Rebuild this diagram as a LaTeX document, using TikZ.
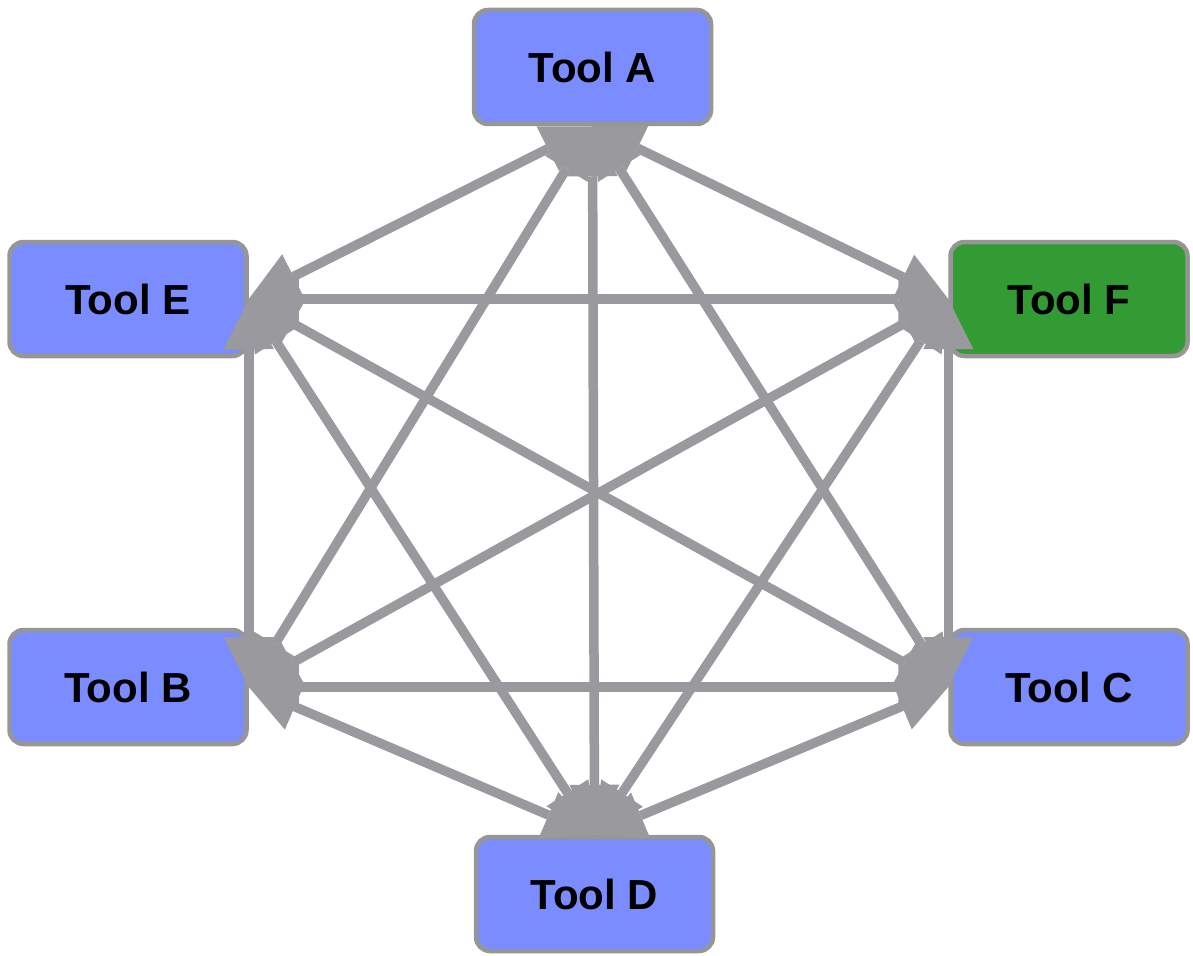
\documentclass[tikz,border=0pt]{standalone}
\usepackage{fontspec}
\setmainfont{Liberation Sans}
\usetikzlibrary{arrows.meta}
\definecolor{toolblue}{RGB}{123,140,255}
\definecolor{toolgreen}{RGB}{51,155,51}
\definecolor{bordergray}{RGB}{150,150,150}
\definecolor{edgegray}{RGB}{154,153,157}
\tikzset{
  tool/.style={draw=bordergray, line width=4.5pt, rounded corners=14pt, fill=toolblue,
    minimum width=237pt, minimum height=114pt, inner sep=0pt,
    font=\fontsize{42}{42}\selectfont\bfseries, text=black},
  link/.style={draw=edgegray, line width=9.5pt,
    {Triangle[length=50pt,width=50pt,line width=0pt]}-{Triangle[length=50pt,width=50pt,line width=0pt]}}
}
\begin{document}
\begin{tikzpicture}[x=1pt,y=-1pt]
\useasboundingbox (0,0) rectangle (1193,955);
\node[tool] (A) at (592.5,67) {Tool A};
\node[tool] (E) at (128,299) {Tool E};
\node[tool, fill=toolgreen] (F) at (1069,299) {Tool F};
\node[tool] (B) at (128,687) {Tool B};
\node[tool] (C) at (1069,687) {Tool C};
\node[tool] (D) at (594.5,894) {Tool D};
\draw[link] (A.south) -- (E.east);
\draw[link] (A.south) -- (F.west);
\draw[link] (A.south) -- (B.east);
\draw[link] (A.south) -- (C.west);
\draw[link] (A.south) -- (D.north);
\draw[link] (E.east) -- (F.west);
\draw[link] (E.east) -- (B.east);
\draw[link] (E.east) -- (C.west);
\draw[link] (E.east) -- (D.north);
\draw[link] (F.west) -- (B.east);
\draw[link] (F.west) -- (C.west);
\draw[link] (F.west) -- (D.north);
\draw[link] (B.east) -- (C.west);
\draw[link] (B.east) -- (D.north);
\draw[link] (C.west) -- (D.north);
\end{tikzpicture}
\end{document}
